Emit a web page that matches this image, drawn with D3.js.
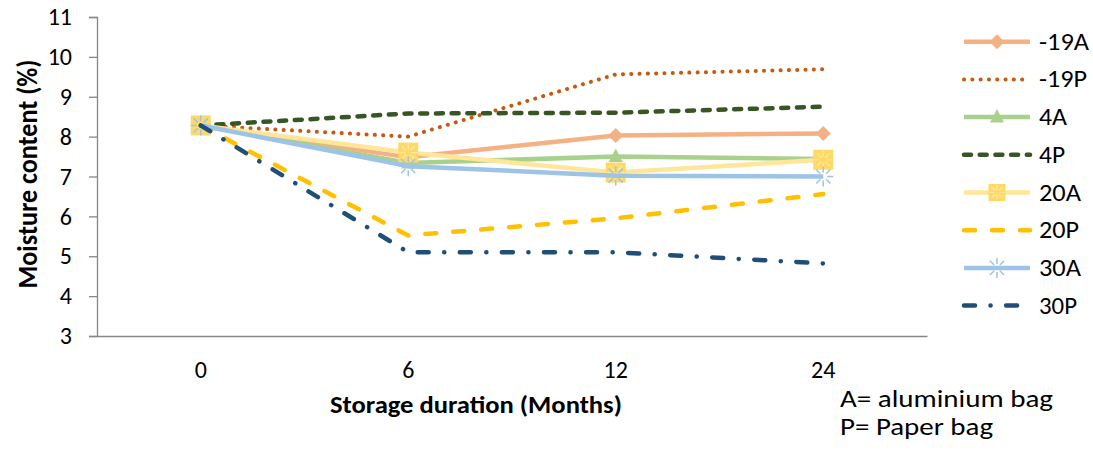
<!DOCTYPE html>
<html>
<head>
<meta charset="utf-8">
<script src="https://cdn.jsdelivr.net/npm/d3@7"></script>
<style>
  html, body { margin: 0; padding: 0; background: #fff; }
  svg { display: block; font-family: Carlito, Lato, "Open Sans", sans-serif; }
</style>
</head>
<body>
<svg id="chart" width="1093" height="451"></svg>
<script>
// Storage duration categories (months)
const months = ["0", "6", "12", "24"];

// Moisture content (%) per storage temperature / bag type
const seriesNames = ["-19A", "-19P", "4A", "4P", "20A", "20P", "30A", "30P"];
const m19A = [8.28, 7.48, 8.03, 8.08];
const m19P = [8.28, 8.0, 9.56, 9.69];
const m4A  = [8.28, 7.34, 7.5, 7.44];
const m4P  = [8.28, 8.58, 8.6, 8.75];
const m20A = [8.28, 7.6, 7.1, 7.42];
const m20P = [8.28, 5.52, 5.95, 6.56];
const m30A = [8.28, 7.26, 7.02, 7.0];
const m30P = [8.28, 5.1, 5.1, 4.82];

const yTicks = [3, 4, 5, 6, 7, 8, 9, 10, 11];
const notes = ["A= aluminium bag", "P= Paper bag"];

const values = [m19A, m19P, m4A, m4P, m20A, m20P, m30A, m30P];

// Line styles per series
const styles = [
  { color: "#F4B183", dash: null,               marker: "diamond" },
  { color: "#C55A11", dash: "0.1,8.2",          marker: null, width: 4 },
  { color: "#A9D18E", dash: null,               marker: "triangle" },
  { color: "#375623", dash: "7,8.7",            marker: null },
  { color: "#FFE699", dash: null,               marker: "square" },
  { color: "#FFC000", dash: "11,17",            marker: null },
  { color: "#9DC3E6", dash: null,               marker: "star" },
  { color: "#1F4E79", dash: "11,15.5,0.1,15.5", marker: null }
];

const svg = d3.select("#chart");

// pick font size depending on whether the Calibri-metric font is present
function measure(fam) {
  const t = svg.append("text").attr("font-size", 100).attr("font-family", fam).text("Moisture content 0123");
  const w = t.node().getComputedTextLength();
  t.remove();
  return w;
}
const hasCarlito = measure("Carlito, monospace") !== measure("monospace");
const fs = hasCarlito ? 24 : 22;

const plotLeft = 97, plotRight = 927, plotTop = 17, plotBottom = 336;

const x = d3.scaleBand().domain(months).range([plotLeft, plotRight]).paddingInner(0).paddingOuter(0);
const y = d3.scaleLinear().domain([3, 11]).range([plotBottom, plotTop]);
const cx = d => x(d) + x.bandwidth() / 2;

const axisColor = "#868686";

// Y axis
const yAxis = svg.append("g").attr("transform", `translate(${plotLeft},0)`)
  .call(d3.axisLeft(y).tickValues(yTicks).tickSize(8).tickPadding(17).tickFormat(d3.format("d")));
yAxis.select(".domain").attr("stroke", axisColor).attr("stroke-width", 1.3);
yAxis.selectAll(".tick line").attr("stroke", axisColor).attr("stroke-width", 1.3);
yAxis.selectAll(".tick text").attr("font-size", fs).attr("fill", "#000")
  .attr("font-family", "Carlito, Lato, sans-serif");

// X axis
const xAxis = svg.append("g").attr("transform", `translate(0,${plotBottom})`)
  .call(d3.axisBottom(x).tickSize(0).tickPadding(26));
xAxis.select(".domain").attr("stroke", axisColor).attr("stroke-width", 1.3);
xAxis.selectAll(".tick text").attr("font-size", fs).attr("fill", "#000")
  .attr("font-family", "Carlito, Lato, sans-serif").attr("dy", null)
  .attr("y", 42);

// Axis titles
svg.append("text")
  .attr("transform", `translate(37,174) scale(${hasCarlito ? 1.15 : 1},1) rotate(-90)`)
  .attr("text-anchor", "middle")
  .attr("font-size", hasCarlito ? 24 : 25).attr("font-weight", "bold")
  .attr("textLength", 229).attr("lengthAdjust", "spacingAndGlyphs")
  .text("Moisture content (%)");

svg.append("text")
  .attr("x", 476).attr("y", 413)
  .attr("text-anchor", "middle")
  .attr("font-size", fs).attr("font-weight", "bold")
  .attr("textLength", 292).attr("lengthAdjust", "spacingAndGlyphs")
  .text("Storage duration (Months)");

// Notes
const noteWidths = [213, 153];
svg.selectAll("text.note").data(notes).enter().append("text")
  .attr("class", "note")
  .attr("x", 840).attr("y", (d, i) => 406.5 + i * 28.5)
  .attr("font-size", fs)
  .attr("textLength", (d, i) => noteWidths[i]).attr("lengthAdjust", "spacingAndGlyphs")
  .text(d => d);

// Marker drawing
function spokes(g, px, py, r0, r1, color, w) {
  for (let k = 0; k < 8; k++) {
    const a = k * Math.PI / 4;
    g.append("line")
      .attr("x1", px + r0 * Math.cos(a)).attr("y1", py + r0 * Math.sin(a))
      .attr("x2", px + r1 * Math.cos(a)).attr("y2", py + r1 * Math.sin(a))
      .attr("stroke", color).attr("stroke-width", w);
  }
}
function drawMarker(g, type, px, py, color, s) {
  s = s || 1;
  if (type === "diamond") {
    const r = 7.5 * s;
    g.append("path")
      .attr("d", `M${px},${py - r}L${px + r},${py}L${px},${py + r}L${px - r},${py}Z`)
      .attr("fill", color);
  } else if (type === "triangle") {
    g.append("path")
      .attr("d", `M${px},${py - 8 * s}L${px + 7 * s},${py + 5.5 * s}L${px - 7 * s},${py + 5.5 * s}Z`)
      .attr("fill", color);
  } else if (type === "square") {
    const h = 10 * s;
    g.append("rect")
      .attr("x", px - h).attr("y", py - h).attr("width", 2 * h).attr("height", 2 * h)
      .attr("fill", "#FFD966");
    spokes(g, px, py, 3 * s, 9 * s, "#FFE9A8", 1.2);
  } else if (type === "star") {
    spokes(g, px, py, 4 * s, 10 * s, color, 1.5);
  }
}

const line = d3.line().x((d, i) => cx(months[i])).y(d => y(d));

// Series
const plot = svg.append("g");
values.forEach((vals, si) => {
  const st = styles[si];
  const g = plot.append("g");
  g.append("path")
    .attr("d", line(vals))
    .attr("fill", "none")
    .attr("stroke", st.color)
    .attr("stroke-width", st.width || 4.5)
    .attr("stroke-linecap", st.dash ? "round" : "butt")
    .attr("stroke-linejoin", "round")
    .attr("stroke-dasharray", st.dash);
  if (st.marker) {
    vals.forEach((v, i) => drawMarker(g, st.marker, cx(months[i]), y(v), st.color));
  }
});

// Legend
const legendWidths = [50, 48, 28, 26, 42, 40, 42, 38];
const legend = svg.append("g");
seriesNames.forEach((name, i) => {
  const st = styles[i];
  const ly = 41.7 + i * 37.7;
  const g = legend.append("g");
  g.append("line")
    .attr("x1", 964).attr("x2", 1030).attr("y1", ly).attr("y2", ly)
    .attr("stroke", st.color)
    .attr("stroke-width", st.width || 4.5)
    .attr("stroke-linecap", st.dash ? "round" : "butt")
    .attr("stroke-dasharray", st.dash);
  if (st.marker) drawMarker(g, st.marker, 997, ly, st.color, st.marker === "square" ? 0.85 : 1);
  g.append("text")
    .attr("x", 1039).attr("y", ly + 8)
    .attr("font-size", fs)
    .attr("textLength", legendWidths[i]).attr("lengthAdjust", "spacingAndGlyphs")
    .text(name);
});
</script>
</body>
</html>
